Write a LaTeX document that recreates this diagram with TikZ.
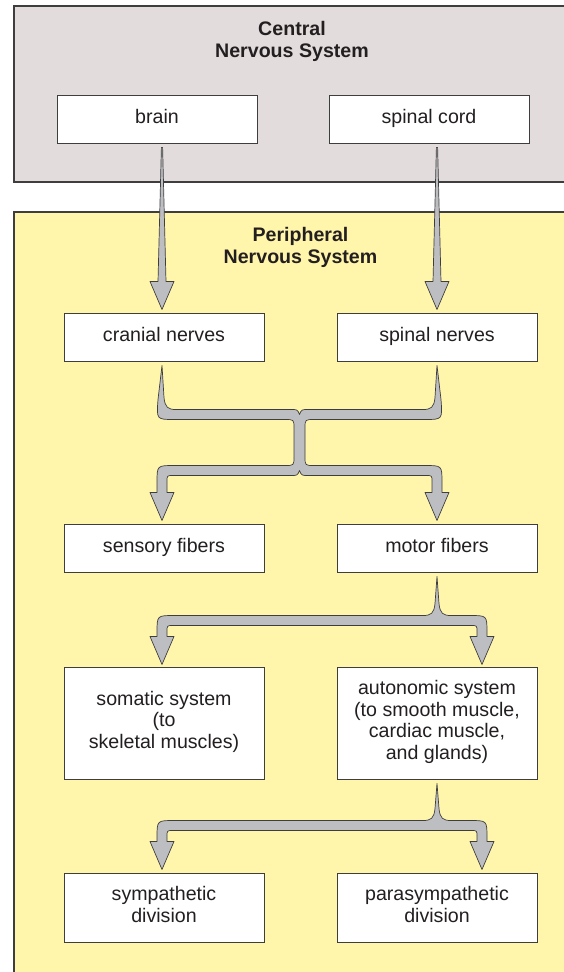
\documentclass[tikz,border=0pt]{standalone}
\usepackage{fontspec}
\setmainfont{Liberation Sans}
\usetikzlibrary{calc}
\definecolor{cnsfill}{RGB}{226,220,220}
\definecolor{pnsfill}{RGB}{255,245,171}
\definecolor{arrowfill}{RGB}{189,190,194}
\definecolor{edgegray}{RGB}{62,62,62}
\definecolor{txt}{RGB}{35,31,32}
\newdimen\mytmpdim
\newcommand\getpt[3]{%
  \pgfextractx{\mytmpdim}{\pgfpointanchor{#1}{center}}\pgfmathsetmacro#2{\mytmpdim}%
  \pgfextracty{\mytmpdim}{\pgfpointanchor{#1}{center}}\pgfmathsetmacro#3{-\mytmpdim}}
% straight tapered arrow from start coordinate #1 to tip coordinate #2
\newcommand\straightarrow[2]{%
  \getpt{#1}\mysx\mysy \getpt{#2}\mytx\myty
  \pgfmathsetmacro\myhd{\myty-28}%
  \draw[flow] ({\mysx-0.6},\mysy) -- ({\mytx-4},\myhd) -- ({\mytx-12},\myhd) -- (\mytx,\myty)
    -- ({\mytx+12},\myhd) -- ({\mytx+4},\myhd) -- ({\mysx+0.6},\mysy) -- cycle;}
% one stem splitting into two arrows: #1 stem tip, #2 left arrow tip, #3 right arrow tip
\newcommand\splitarrow[3]{%
  \getpt{#1}\mysx\mysy \getpt{#2}\mylx\myty \getpt{#3}\myrx\myty
  \pgfmathsetmacro\mybt{\myty-49}%
  \pgfmathsetmacro\mybb{\myty-39}%
  \pgfmathsetmacro\myhd{\myty-28}%
  \draw[flow] (\mysx,\mysy) -- ({\mysx+2},{\mybt-12}) .. controls ({\mysx+3},{\mybt-2}) and ({\mysx+6},\mybt) .. ({\mysx+14},\mybt)
   -- ({\myrx-12},\mybt) .. controls ({\myrx+5},\mybt) .. ({\myrx+5},{\mybt+17}) -- ({\myrx+5},\myhd) -- ({\myrx+12},\myhd)
   -- (\myrx,\myty) -- ({\myrx-12},\myhd) -- ({\myrx-5},\myhd) -- ({\myrx-5},{\mybb+6}) .. controls ({\myrx-5},\mybb) .. ({\myrx-11},\mybb)
   -- ({\mylx+11},\mybb) .. controls ({\mylx+5},\mybb) .. ({\mylx+5},{\mybb+6}) -- ({\mylx+5},\myhd) -- ({\mylx+12},\myhd)
   -- (\mylx,\myty) -- ({\mylx-12},\myhd) -- ({\mylx-5},\myhd) -- ({\mylx-5},{\mybt+17}) .. controls ({\mylx-5},\mybt) .. ({\mylx+12},\mybt)
   -- ({\mysx-14},\mybt) .. controls ({\mysx-6},\mybt) and ({\mysx-3},{\mybt-2}) .. ({\mysx-2},{\mybt-12}) -- cycle;}
% two stems merging and splitting again: #1,#2 stem tips, #3,#4 arrow tips
\newcommand\mergearrow[4]{%
  \getpt{#1}\mylx\mysy \getpt{#2}\myrx\mysy \getpt{#3}\mylx\myty
  \pgfmathsetmacro\myc{(\mylx+\myrx)/2}%
  \pgfmathsetmacro\mya{\mysy+44}%
  \pgfmathsetmacro\myb{\mya+10}%
  \pgfmathsetmacro\myd{\mya+56}%
  \pgfmathsetmacro\mye{\myd+10}%
  \pgfmathsetmacro\myhd{\myty-28}%
  \draw[flow] (\mylx,\mysy) -- ({\mylx+2},{\mya-12}) .. controls ({\mylx+3},{\mya-2}) and ({\mylx+6},\mya) .. ({\mylx+14},\mya)
   -- ({\myc-9},\mya) .. controls ({\myc-2},\mya) .. (\myc,{\mya+5}) .. controls ({\myc+2},\mya) .. ({\myc+9},\mya)
   -- ({\myrx-14},\mya) .. controls ({\myrx-6},\mya) and ({\myrx-3},{\mya-2}) .. ({\myrx-2},{\mya-12}) -- (\myrx,\mysy)
   -- ({\myrx+4},{\mya-10}) .. controls ({\myrx+5.5},\myb) .. ({\myrx-12},\myb)
   -- ({\myc+14.5},\myb) .. controls ({\myc+5.5},\myb) .. ({\myc+5.5},{\myb+9})
   -- ({\myc+5.5},{\myd-9}) .. controls ({\myc+5.5},\myd) .. ({\myc+14.5},\myd)
   -- ({\myrx-12},\myd) .. controls ({\myrx+5},\myd) .. ({\myrx+5},{\myd+17}) -- ({\myrx+5},\myhd) -- ({\myrx+12},\myhd)
   -- (\myrx,\myty) -- ({\myrx-12},\myhd) -- ({\myrx-5},\myhd) -- ({\myrx-5},{\mye+6}) .. controls ({\myrx-5},\mye) .. ({\myrx-11},\mye)
   -- ({\myc+9},\mye) .. controls ({\myc+2},\mye) .. (\myc,{\mye-5}) .. controls ({\myc-2},\mye) .. ({\myc-9},\mye)
   -- ({\mylx+11},\mye) .. controls ({\mylx+5},\mye) .. ({\mylx+5},{\mye+6}) -- ({\mylx+5},\myhd) -- ({\mylx+12},\myhd)
   -- (\mylx,\myty) -- ({\mylx-12},\myhd) -- ({\mylx-5},\myhd) -- ({\mylx-5},{\myd+17}) .. controls ({\mylx-5},\myd) .. ({\mylx+12},\myd)
   -- ({\myc-14.5},\myd) .. controls ({\myc-5.5},\myd) .. ({\myc-5.5},{\myd-9})
   -- ({\myc-5.5},{\myb+9}) .. controls ({\myc-5.5},\myb) .. ({\myc-14.5},\myb)
   -- ({\mylx+12},\myb) .. controls ({\mylx-5.5},\myb) .. ({\mylx-4},{\mya-10}) -- cycle;}
\begin{document}
\begin{tikzpicture}[x=1pt,y=-1pt,
  panel/.style={draw=edgegray, line width=1.1pt},
  box/.style={draw=edgegray, line width=1pt, fill=white, minimum width=200pt, inner sep=0pt,
    align=center, text=txt, font=\fontsize{19.6}{21.5}\selectfont,
    execute at begin node=\strut, execute at end node=\strut},
  title/.style={align=center, text=txt, font=\fontsize{19.6}{21.5}\selectfont\bfseries, inner sep=0pt,
    execute at begin node=\strut, execute at end node=\strut},
  flow/.style={fill=arrowfill, draw=edgegray, line width=0.7pt, line join=round}]
\useasboundingbox (0,0) rectangle (564,972);
\clip (0,0) rectangle (564,972);
% panels
\draw[panel, fill=cnsfill] (14,6) rectangle (600,182);
\draw[panel, fill=pnsfill] (14,212) rectangle (600,1000);
% titles
\node[title] (cnst) at (292,42.5) {Central\\Nervous System};
\node[title] (pnst) at (300.5,248.5) {Peripheral\\Nervous System};
% boxes
\node[box, minimum height=48pt] (brain) at (157,119) {brain};
\node[box, minimum height=48pt] (cord) at (429,119) {spinal cord};
\node[box, minimum height=48pt] (cranial) at (164,337) {cranial nerves};
\node[box, minimum height=48pt] (spinal) at (437,337) {spinal nerves};
\node[box, minimum height=48pt] (sensory) at (164,548) {sensory fibers};
\node[box, minimum height=48pt] (motor) at (437,548) {motor fibers};
\node[box, minimum height=112pt] (somatic) at (164,723) {somatic system\\(to\\skeletal muscles)};
\node[box, minimum height=112pt] (autonomic) at (437,723) {autonomic system\\(to smooth muscle,\\cardiac muscle,\\and glands)};
\node[box, minimum height=69pt] (symp) at (164,907.5) {sympathetic\\division};
\node[box, minimum height=69pt] (para) at (437,907.5) {parasympathetic\\division};
% connector end points
\coordinate (b0) at ($(brain.south)+(5,4)$);
\coordinate (b1) at ($(cranial.north)+(-2,-3)$);
\coordinate (c0) at ($(cord.south)+(8,4)$);
\coordinate (c1) at ($(spinal.north)+(0,-3)$);
\coordinate (m0) at ($(cranial.south)+(-2,4)$);
\coordinate (m1) at ($(spinal.south)+(0,4)$);
\coordinate (m2) at ($(sensory.north)+(-2,-3)$);
\coordinate (m3) at ($(motor.north)+(0,-3)$);
\coordinate (s0) at ($(motor.south)+(0,4)$);
\coordinate (s1) at ($(somatic.north)+(-2,-2)$);
\coordinate (s2) at ($(autonomic.north)+(45,-2)$);
\coordinate (t0) at ($(autonomic.south)+(0,4)$);
\coordinate (t1) at ($(symp.north)+(-2,-3)$);
\coordinate (t2) at ($(para.north)+(45,-3)$);
% connectors
\straightarrow{b0}{b1}
\straightarrow{c0}{c1}
\mergearrow{m0}{m1}{m2}{m3}
\splitarrow{s0}{s1}{s2}
\splitarrow{t0}{t1}{t2}
\end{tikzpicture}
\end{document}
